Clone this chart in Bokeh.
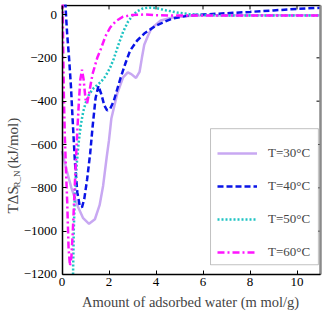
import math
from bokeh.plotting import figure
from bokeh.models import (Range1d, FixedTicker, Legend, LegendItem,
                          BoxAnnotation, Label)
from bokeh.embed import file_html
from bokeh.resources import INLINE

# ---------------- data ----------------
x_ticks = [0, 2, 4, 6, 8, 10]
y_ticks = [-1200, -1000, -800, -600, -400, -200, 0]

x30 = [0.0, 0.2, 0.4, 0.65, 0.9, 1.15, 1.4, 1.6, 1.75, 1.9, 2.0, 2.1, 2.35, 2.6, 2.8,
       2.95, 3.15, 3.3, 3.4, 3.5, 3.65, 3.8, 4.2, 4.7, 5.5, 6.5, 8.0, 9.5, 11.0]
y30 = [-630, -720, -800, -880, -940, -966, -945, -880, -790, -660, -580, -480, -365, -290, -267,
       -275, -293, -265, -200, -140, -100, -65, -28, -14, -6, -4, -3, -3, -3]

x40 = [0.14, 0.18, 0.22, 0.3, 0.38, 0.45, 0.55, 0.65, 0.75, 0.85, 0.95, 1.07, 1.2, 1.3, 1.43,
       1.55, 1.68, 1.8, 1.92, 2.05, 2.2, 2.35, 2.5, 2.7, 2.9, 3.2, 3.5, 4.0, 4.7, 5.5, 6.0,
       7.0, 8.0, 9.0, 10.0, 11.0]
y40 = [60, -20, -90, -200, -330, -480, -680, -820, -880, -890, -850, -760, -640, -520, -385,
       -330, -370, -420, -443, -435, -400, -345, -290, -225, -166, -120, -88, -51, -18, -3, 0,
       6, 12, 19, 26, 31]

x50 = [0.47, 0.5, 0.55, 0.62, 0.7, 0.8, 0.9, 1.0, 1.13, 1.3, 1.5, 1.65, 1.85, 2.05, 2.2, 2.4,
       2.6, 2.8, 3.0, 3.2, 3.45, 3.7, 4.0, 4.4, 4.9, 5.4, 6.0, 7.0, 8.0, 9.5, 11.0]
y50 = [-1200, -1000, -820, -700, -600, -510, -450, -410, -374, -345, -325, -312, -285, -245, -205, -140,
       -80, -35, -5, 15, 28, 32, 30, 20, 9, 2, -2, -4, -5, -5, -5]

x60 = [0.03, 0.05, 0.08, 0.12, 0.17, 0.22, 0.28, 0.34, 0.4, 0.46, 0.52, 0.58, 0.65, 0.72, 0.78,
       0.85, 0.92, 1.0, 1.07, 1.15, 1.3, 1.5, 1.65, 1.85, 2.05, 2.3, 2.6, 3.0, 3.5, 4.0, 5.0,
       6.5, 8.0, 9.5, 11.0]
y60 = [60, -150, -380, -560, -720, -860, -1080, -1160, -1120, -1000, -850, -700, -540, -400, -300,
       -255, -300, -390, -410, -365, -275, -200, -160, -100, -60, -30, -10, -2, 0, -3, -5,
       -5, -5, -5, -5]

labels = ["T=30°C", "T=40°C", "T=50°C", "T=60°C"]
colors = ["#c8a8f2", "#0a14e6", "#1ec3c3", "#ff14ff"]
dashes = ["solid", "6 3", "2 2", "7 3 2 3"]

FONT = "Liberation Serif"
X0, X1 = 0, 11          # visible axis extent
Y0, Y1 = -1200, 42

# whole canvas is the frame so the texts outside the axes are not clipped
p = figure(frame_width=322, frame_height=313, output_backend="svg", toolbar_location=None,
           x_range=Range1d(-2.617, 11.085), y_range=Range1d(-1398.5, 46.2),
           min_border_left=0, min_border_right=4, min_border_top=4, min_border_bottom=0)
p.grid.visible = False
p.outline_line_color = None
p.background_fill_color = "white"
p.border_fill_color = "white"

for ax in (p.xaxis[0], p.yaxis[0]):
    ax.major_tick_in = 4
    ax.major_tick_out = 0
    ax.minor_tick_line_color = None
    ax.major_tick_line_color = "black"
    ax.axis_line_width = 1.5
    ax.axis_line_color = "black"
    ax.major_label_text_font = FONT
    ax.major_label_text_font_size = "13px"
    ax.major_label_text_color = "black"

p.xaxis.ticker = FixedTicker(ticks=x_ticks)
p.yaxis.ticker = FixedTicker(ticks=y_ticks)
p.xaxis.fixed_location = Y0
p.yaxis.fixed_location = X0
p.xaxis.bounds = (X0, X1)
p.yaxis.bounds = (Y0, Y1)
p.xaxis.major_label_standoff = 4
p.yaxis.major_label_standoff = 5

# top border and mirrored inward ticks on top and right
p.segment(x0=[X0], y0=[Y1], x1=[X1], y1=[Y1], line_color="black", line_width=1.5)
p.ray(x=x_ticks, y=[Y1] * len(x_ticks), length=4, length_units="screen",
      angle=-math.pi / 2, line_color="black", line_width=1)
p.ray(x=[X1] * len(y_ticks), y=y_ticks, length=4, length_units="screen",
      angle=math.pi, line_color="black", line_width=1)

series = [(x30, y30), (x40, y40), (x50, y50), (x60, y60)]
rends = []
for (xs, ys), c, d in zip(series, colors, dashes):
    r = p.line(xs, ys, line_color=c, line_width=2.5, line_dash=d)
    rends.append(r)

# gray right border
p.segment(x0=[X1], y0=[Y0], x1=[X1], y1=[Y1], line_color="#8a8a8a", line_width=2.5)

# legend box
box = BoxAnnotation(left=6.32, right=10.91, top=-527, bottom=-1155,
                    fill_color="white", fill_alpha=1.0, line_color="#333333", line_width=1)
p.add_layout(box)

legend = Legend(items=[LegendItem(label=l, renderers=[r]) for l, r in zip(labels, rends)],
                location=(217, 55), orientation="vertical", padding=0, margin=0, spacing=13,
                glyph_width=40, glyph_height=20, label_height=20, label_standoff=11,
                label_text_font=FONT, label_text_font_size="13px",
                border_line_color=None, background_fill_alpha=0)
p.add_layout(legend, "center")

# x axis title
p.add_layout(Label(x=5.47, y=-1329, text="Amount of adsorbed water (m mol/g)",
                   text_align="center", text_baseline="middle", text_font=FONT,
                   text_font_size="14.5px"))

# y axis title: T\u0394S with subscript R_N
lbl_kw = dict(angle=math.pi / 2, text_align="left", text_baseline="middle", text_font=FONT)
p.add_layout(Label(x=-2.106, y=-918, text="T\u0394S", text_font_size="15px", **lbl_kw))
p.add_layout(Label(x=-1.936, y=-798, text="R_N", text_font_size="9px", **lbl_kw))
p.add_layout(Label(x=-2.106, y=-711, text="(kJ/mol)", text_font_size="15px", **lbl_kw))

open("out.html", "w").write(file_html(p, INLINE))
